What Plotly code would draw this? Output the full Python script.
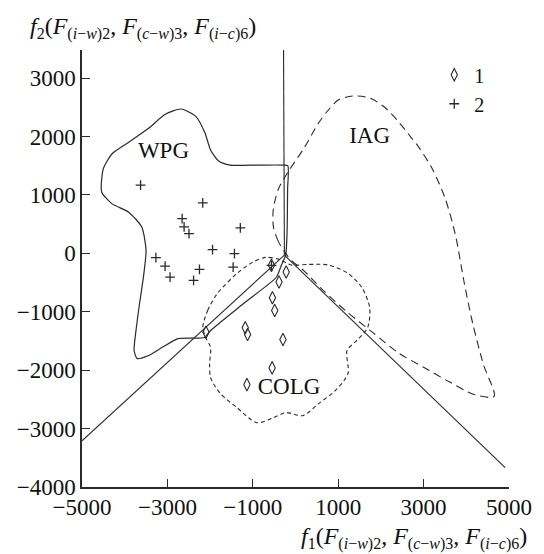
import plotly.graph_objects as go

# ---- data ----
x_ticks = [-5000, -3000, -1000, 1000, 3000, 5000]
y_ticks = [-4000, -3000, -2000, -1000, 0, 1000, 2000, 3000]

# group 1 (diamonds)
g1_x = [-563, -218, -386, -540, -487, -1177, -1122, -294, -547, -1138, -2097]
g1_y = [-206, -320, -492, -760, -978, -1275, -1389, -1475, -1961, -2247, -1350]

# group 2 (crosses)
g2_x = [-3628, -2172, -2655, -2609, -2494, -1292, -1943, -1430, -3269, -3054, -1460, -2249, -2938, -2387, -563]
g2_y = [1166, 863, 595, 451, 338, 434, 63, -5, -74, -218, -235, -274, -406, -463, -206]

# discriminant lines (from the triple junction)
line_up_x = [-260, -280]
line_up_y = [-30, 3480]
line_left_x = [-260, -5000]
line_left_y = [-30, -3210]
line_right_x = [-260, 4910]
line_right_y = [-30, -3670]

# WPG field (solid)
wpg_x = [-180, -300, -900, -1530, -1800, -1990, -2120, -2330, -2680, -3050, -3440, -3950, -4300, -4500,
         -4540, -4300, -3900, -3600, -3500, -3560, -3650, -3740, -3780, -3710, -3440, -3100, -2750,
         -2130, -2000, -1200, -450, -330, -230, -200, -190, -185, -180]
wpg_y = [1500, 1510, 1510, 1510, 1580, 1770, 2060, 2340, 2470, 2380, 2140, 1880, 1700, 1450,
         1050, 850, 700, 450, 50, -400, -850, -1350, -1660, -1800, -1750, -1600, -1460,
         -1440, -1330, -850, -410, -200, -30, 300, 700, 1100, 1500]

# IAG field (long dashes)
iag_x = [-230, -400, -517, -520, -400, -150, 200, 540, 770, 1000, 1345, 1736, 2080, 2379, 2701, 2885,
         3200, 3500, 3750, 3950, 4150, 4400, 4650, 4200, 3600, 3000, 2400, 1800, 1200, 600, 200, -100, -230]
iag_y = [0, 200, 450, 750, 1100, 1420, 1800, 2230, 2453, 2624, 2693, 2659, 2504, 2281, 1990, 1818,
         1450, 950, 300, -500, -1200, -1900, -2450, -2420, -2200, -1950, -1700, -1350, -1000, -600, -300, -120, 0]

# COLG field (short dashes)
colg_x = [-2172, -2057, -1828, -1368, -1000, -700, -400, -100, 300, 770, 1230, 1552, 1736, 1690, 1437,
          1207, 1230, 931, 540, 172, -218, -517, -908, -1368, -1759, -1989, -2011, -1989, -2103, -2172]
colg_y = [-1269, -978, -686, -343, -150, -70, -100, -200, -190, -200, -343, -583, -926, -1269, -1492,
          -1664, -2058, -2350, -2573, -2779, -2727, -2813, -2899, -2642, -2401, -2127, -1887, -1612, -1441, -1269]

labels = ["WPG", "IAG", "COLG"]
label_x = [-3092, 1736, -150]
label_y = [1732, 1981, -2316]

INK = "#2a2a2a"
FONT = "Liberation Serif, Times New Roman, serif"

fig = go.Figure()

for lx, ly in [(line_up_x, line_up_y), (line_left_x, line_left_y), (line_right_x, line_right_y)]:
    fig.add_trace(go.Scatter(x=lx, y=ly, mode="lines", line=dict(color=INK, width=1.1),
                             showlegend=False, hoverinfo="skip"))

fig.add_trace(go.Scatter(x=wpg_x, y=wpg_y, mode="lines",
                         line=dict(color=INK, width=1.2, shape="spline", smoothing=0.6),
                         showlegend=False, hoverinfo="skip"))
fig.add_trace(go.Scatter(x=iag_x, y=iag_y, mode="lines",
                         line=dict(color=INK, width=1.1, shape="spline", smoothing=0.8, dash="8px,5px"),
                         showlegend=False, hoverinfo="skip"))
fig.add_trace(go.Scatter(x=colg_x, y=colg_y, mode="lines",
                         line=dict(color=INK, width=1.1, shape="spline", smoothing=0.8, dash="4px,3px"),
                         showlegend=False, hoverinfo="skip"))

fig.add_trace(go.Scatter(x=g1_x, y=g1_y, mode="markers", name="1",
                         marker=dict(symbol="diamond-tall-open", size=9, color=INK, line=dict(width=1.1, color=INK))))
fig.add_trace(go.Scatter(x=g2_x, y=g2_y, mode="markers", name="2",
                         marker=dict(symbol="cross-thin-open", size=7, color=INK, line=dict(width=1.3, color=INK))))

fig.add_trace(go.Scatter(x=label_x, y=label_y, mode="text", text=labels,
                         textfont=dict(family=FONT, size=23, color="#111"),
                         showlegend=False, hoverinfo="skip"))


def sub(s):
    return '<sub><span style="font-size:16px">' + s + '</span></sub>'


title_y = ("<i>f</i>" + sub("2") + "(<i>F</i>" + sub("(<i>i</i>−<i>w</i>)2") + ", "
           "<i>F</i>" + sub("(<i>c</i>−<i>w</i>)3") + ", <i>F</i>" + sub("(<i>i</i>−<i>c</i>)6") + ")")
title_x = ("<i>f</i>" + sub("1") + "(<i>F</i>" + sub("(<i>i</i>−<i>w</i>)2") + ", "
           "<i>F</i>" + sub("(<i>c</i>−<i>w</i>)3") + ", <i>F</i>" + sub("(<i>i</i>−<i>c</i>)6") + ")")

fig.add_annotation(text=title_y, xref="paper", yref="paper", x=-0.126, y=1.05,
                   xanchor="left", yanchor="middle", showarrow=False,
                   font=dict(family=FONT, size=24, color="#111"))
fig.add_annotation(text=title_x, xref="paper", yref="paper", x=1.048, y=-0.117,
                   xanchor="right", yanchor="middle", showarrow=False,
                   font=dict(family=FONT, size=24, color="#111"))

axis_common = dict(showgrid=False, zeroline=False, showline=True, linecolor=INK, linewidth=1.5,
                   ticks="inside", ticklen=8, tickwidth=1.3, tickcolor=INK,
                   tickfont=dict(family=FONT, size=23, color="#111"))
fig.update_xaxes(range=[-5000, 5000], tickvals=x_ticks, ticklabelstandoff=-1, **axis_common)
fig.update_yaxes(range=[-4000, 3480], tickvals=y_ticks, **axis_common)

fig.update_layout(
    width=544, height=554,
    margin=dict(l=82, r=27, t=50, b=67),
    plot_bgcolor="white", paper_bgcolor="white",
    legend=dict(x=0.825, y=0.988, xanchor="left", yanchor="top", bgcolor="rgba(0,0,0,0)",
                font=dict(family=FONT, size=20, color="#111"), tracegroupgap=0, itemwidth=30),
)

fig.write_html("out.html")
